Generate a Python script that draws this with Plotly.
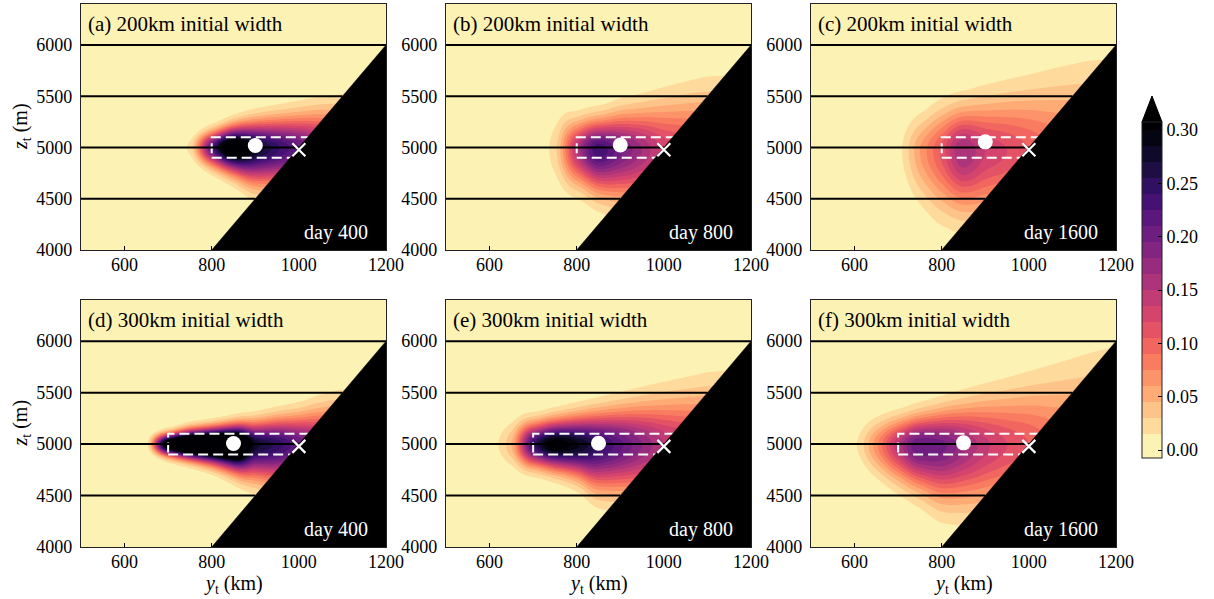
import numpy as np
import plotly.graph_objects as go

# ---------------- data ----------------
panel_labels = ["(a) 200km initial width", "(b) 200km initial width", "(c) 200km initial width",
                "(d) 300km initial width", "(e) 300km initial width", "(f) 300km initial width"]
day_labels = ["day 400", "day 800", "day 1600", "day 400", "day 800", "day 1600"]

# topography: slope from (800 km, 4000 m) rising 5 m per km up to 6000 m
slope_y0 = 800.0
slope_z0 = 4000.0
slope_grad = 5.0
slope_ztop = 6000.0
isopycnal_levels = [4500, 5000, 5500, 6000]

# initial tracer box (dashed)
box_left = [800, 800, 800, 700, 700, 700]
box_bottom = 4900
box_top = 5100
# tracer centroid (white dot)
dot_y = [900, 900, 900, 850, 850, 850]
dot_z = [5020, 5025, 5055, 5005, 5008, 5012]
# release point (white cross)
cross_y = 1000
cross_z = 4978

# tracer profile read along the plume, at these positions y_t (km)
profile_y = [500, 550, 600, 650, 700, 750, 800, 850, 900, 950, 1000, 1050, 1100, 1150, 1200]
# concentration on the plume axis
axis_conc = [
    [0, 0, 0, 0, 0, 0.02, 0.22, 0.36, 0.29, 0.245, 0.21, 0.17, 0.13, 0.10, 0.08],        # (a)
    [0, 0, 0, 0, 0, 0.025, 0.15, 0.235, 0.20, 0.165, 0.13, 0.115, 0.10, 0.085, 0.07],    # (b)
    [0, 0, 0, 0, 0.01, 0.06, 0.11, 0.165, 0.135, 0.12, 0.105, 0.09, 0.08, 0.07, 0.06],   # (c)
    [0, 0, 0, 0.01, 0.36, 0.48, 0.50, 0.48, 0.28, 0.25, 0.21, 0.17, 0.13, 0.10, 0.08],   # (d)
    [0, 0, 0.006, 0.045, 0.24, 0.315, 0.29, 0.25, 0.215, 0.18, 0.15, 0.13, 0.11, 0.09, 0.075],  # (e)
    [0, 0, 0.012, 0.07, 0.15, 0.21, 0.20, 0.17, 0.14, 0.12, 0.105, 0.09, 0.08, 0.07, 0.06],     # (f)
]
# depth of the plume axis (m)
axis_z = [5000, 4980, 4965, 5000, 4995, 4990]
# vertical e-folding spread above / below the axis (m)
spread_up = [
    [100, 100, 100, 100, 100, 115, 140, 180, 221, 251, 281, 319, 354, 391, 420],
    [220, 220, 220, 220, 220, 300, 250, 259, 311, 355, 415, 465, 515, 545, 560],
    [300, 300, 300, 300, 300, 310, 365, 381, 437, 484, 535, 597, 655, 714, 750],
    [80, 80, 80, 80, 90, 117, 134, 156, 187, 219, 252, 308, 360, 390, 420],
    [190, 190, 190, 200, 190, 209, 240, 276, 313, 356, 402, 446, 496, 537, 560],
    [200, 200, 200, 219, 231, 258, 298, 348, 403, 455, 515, 582, 651, 730, 807],
]
spread_down = [
    [100, 100, 100, 100, 100, 125, 165, 219, 302, 330, 360, 400, 400, 400, 400],
    [220, 220, 220, 220, 220, 320, 316, 367, 420, 460, 500, 500, 500, 500, 500],
    [300, 300, 300, 300, 350, 437, 514, 520, 550, 550, 550, 550, 550, 550, 550],
    [80, 80, 80, 80, 101, 127, 160, 215, 287, 330, 360, 400, 400, 400, 400],
    [170, 170, 170, 190, 190, 215, 266, 370, 400, 430, 460, 460, 460, 460, 460],
    [200, 200, 200, 258, 316, 378, 469, 500, 520, 520, 520, 520, 520, 520, 520],
]

# colour levels
level_start, level_end, level_step = 0.0, 0.30, 0.015
cbar_ticks = [0.00, 0.05, 0.10, 0.15, 0.20, 0.25, 0.30]

# ---------------- styling ----------------
W, H = 1214, 599
FONT = "Liberation Serif"
col_px = [(81, 386), (446, 751), (811, 1116)]
row_px = [(4, 250), (300, 547)]


def fx(px):
    return px / W


def fy(py):
    return 1 - py / H


magma_hex = ['#000004', '#140e36', '#3b0f70', '#641a80', '#8c2981', '#b73779',
             '#de4968', '#f7705c', '#fe9f6d', '#fecf92', '#fcfdbf']


def hex2rgb(h):
    return np.array([int(h[i:i + 2], 16) for i in (1, 3, 5)], float)


def magma(t):
    t = min(max(t, 0.0), 1.0) * 10
    i = min(int(t), 9)
    f = t - i
    c = hex2rgb(magma_hex[i]) * (1 - f) + hex2rgb(magma_hex[i + 1]) * f
    return 'rgb(%d,%d,%d)' % tuple(np.round(c))


nb = int(round((level_end - level_start) / level_step))
band_cols = [magma(1 - (k + 0.5) / nb) for k in range(nb)]
over_col = magma(0.0)
# plotly evaluates contour fills at s = (k+1)/(nb+1)
cscale = [[0.0, band_cols[0]]] + [[(k + 1) / (nb + 1), band_cols[k]] for k in range(nb)] + [[1.0, over_col]]


def slope_y(z):
    return slope_y0 + (np.asarray(z, float) - slope_z0) / slope_grad


def pchip(xn, yn, x):
    xn = np.asarray(xn, float)
    yn = np.asarray(yn, float)
    hk = np.diff(xn)
    dk = np.diff(yn) / hk
    m = np.zeros_like(yn)
    m[0], m[-1] = dk[0], dk[-1]
    for k in range(1, len(yn) - 1):
        if dk[k - 1] * dk[k] > 0:
            w1 = 2 * hk[k] + hk[k - 1]
            w2 = hk[k] + 2 * hk[k - 1]
            m[k] = (w1 + w2) / (w1 / dk[k - 1] + w2 / dk[k])
    idx = np.clip(np.searchsorted(xn, x) - 1, 0, len(xn) - 2)
    t = (x - xn[idx]) / hk[idx]
    h00 = 2 * t ** 3 - 3 * t ** 2 + 1
    h10 = t ** 3 - 2 * t ** 2 + t
    h01 = -2 * t ** 3 + 3 * t ** 2
    h11 = t ** 3 - t ** 2
    return h00 * yn[idx] + h10 * hk[idx] * m[idx] + h01 * yn[idx + 1] + h11 * hk[idx] * m[idx + 1]


yy = np.arange(500, 1200.1, 4.0)
zz = np.arange(4000, 6400.1, 12.0)
Y, Z = np.meshgrid(yy, zz)


def tracer(i):
    a = np.clip(pchip(profile_y, axis_conc[i], yy), 0, None)
    hu = pchip(profile_y, spread_up[i], yy)
    hd = pchip(profile_y, spread_down[i], yy)
    dz = Z - axis_z[i]
    h = np.where(dz > 0, hu[None, :], hd[None, :])
    return np.round(a[None, :] * np.exp(-(dz / h) ** 2), 4)


fig = go.Figure()
layout = {}
annotations = []

for i in range(6):
    r, c = divmod(i, 3)
    xa = 'x' if i == 0 else 'x%d' % (i + 1)
    ya = 'y' if i == 0 else 'y%d' % (i + 1)
    xkey = 'xaxis' if i == 0 else 'xaxis%d' % (i + 1)
    ykey = 'yaxis' if i == 0 else 'yaxis%d' % (i + 1)
    x0, x1 = col_px[c]
    t0, t1 = row_px[r]
    layout[xkey] = dict(domain=[fx(x0), fx(x1)], anchor=ya, range=[500, 1200],
                        tickvals=[600, 800, 1000, 1200], ticks='inside', ticklen=4,
                        tickcolor='black', showline=True, mirror=True, linecolor='#222',
                        linewidth=1.2, showgrid=False, zeroline=False, ticklabelstandoff=-2,
                        tickfont=dict(family=FONT, size=18, color='black'))
    layout[ykey] = dict(domain=[fy(t1), fy(t0)], anchor=xa, range=[4000, 6400],
                        tickvals=[4000, 4500, 5000, 5500, 6000], ticks='inside', ticklen=4,
                        tickcolor='black', showline=True, mirror=True, linecolor='#222',
                        linewidth=1.2, showgrid=False, zeroline=False, ticklabelstandoff=4,
                        tickfont=dict(family=FONT, size=18, color='black'))

    fig.add_trace(go.Contour(
        x=yy, y=zz, z=tracer(i), xaxis=xa, yaxis=ya,
        colorscale=cscale, showscale=(i == 0),
        contours=dict(start=level_start, end=level_end, size=level_step, coloring='fill'),
        line=dict(width=0, smoothing=0.6), hoverinfo='skip',
        colorbar=dict(x=fx(1142), xanchor='left', y=fy(458), yanchor='bottom',
                      len=336, lenmode='pixels', thickness=20, thicknessmode='pixels',
                      xpad=0, ypad=0, outlinewidth=1, outlinecolor='#222',
                      ticks='inside', ticklen=4, tickcolor='black',
                      tickvals=cbar_ticks, ticktext=['%.2f' % v for v in cbar_ticks],
                      tickfont=dict(family=FONT, size=18, color='black'))))

    # dashed initial box (right part hidden beneath the topography)
    ytop = float(slope_y(slope_ztop))
    bx = [box_left[i], ytop, ytop, box_left[i], box_left[i]]
    bz = [box_bottom, box_bottom, box_top, box_top, box_bottom]
    fig.add_trace(go.Scatter(x=bx, y=bz, xaxis=xa, yaxis=ya, mode='lines',
                             line=dict(color='white', width=2, dash='10px,5px'),
                             hoverinfo='skip', showlegend=False))
    # topography
    tx = [slope_y0, ytop, ytop, slope_y0]
    tz = [slope_z0, slope_ztop, slope_z0, slope_z0]
    fig.add_trace(go.Scatter(x=tx, y=tz, xaxis=xa, yaxis=ya, mode='lines', fill='toself',
                             fillcolor='black', line=dict(color='black', width=0.5),
                             hoverinfo='skip', showlegend=False))
    # isopycnals ending at the slope
    for lev in isopycnal_levels:
        fig.add_trace(go.Scatter(x=[500, float(slope_y(lev))], y=[lev, lev], xaxis=xa, yaxis=ya,
                                 mode='lines', line=dict(color='black', width=2),
                                 hoverinfo='skip', showlegend=False))
    fig.add_trace(go.Scatter(x=[dot_y[i]], y=[dot_z[i]], xaxis=xa, yaxis=ya, mode='markers',
                             marker=dict(color='white', size=15), hoverinfo='skip', showlegend=False))
    fig.add_trace(go.Scatter(x=[cross_y], y=[cross_z], xaxis=xa, yaxis=ya, mode='markers',
                             marker=dict(symbol='x-thin', size=13, line=dict(color='white', width=2.2)),
                             hoverinfo='skip', showlegend=False))

    xd = xa + ' domain'
    yd = ya + ' domain'
    annotations.append(dict(text=panel_labels[i], xref=xd, yref=yd, x=0.016, y=0.919,
                            xanchor='left', yanchor='middle', showarrow=False,
                            font=dict(family=FONT, size=21, color='black')))
    annotations.append(dict(text=day_labels[i], xref=xd, yref=yd, x=0.947, y=0.015,
                            xanchor='right', yanchor='bottom', showarrow=False,
                            font=dict(family=FONT, size=20, color='white')))
    if c == 0:
        annotations.append(dict(text='<i>z</i><sub>t</sub> (m)', xref='paper', yref='paper',
                                x=fx(21), y=fy((t0 + t1) / 2), textangle=-90,
                                xanchor='center', yanchor='middle', showarrow=False,
                                font=dict(family=FONT, size=20, color='black')))
    if r == 1:
        annotations.append(dict(text='<i>y</i><sub>t</sub> (km)', xref='paper', yref='paper',
                                x=fx((x0 + x1) / 2), y=fy(584),
                                xanchor='center', yanchor='middle', showarrow=False,
                                font=dict(family=FONT, size=20, color='black')))

# colorbar "extend max" arrow
ax0, ax1 = fx(1142), fx(1162)
ab, at = fy(122), fy(96)
shapes = [dict(type='path', xref='paper', yref='paper',
               path='M %f %f L %f %f L %f %f Z' % (ax0, ab, ax1, ab, (ax0 + ax1) / 2, at),
               fillcolor='black', line=dict(color='black', width=1))]

fig.update_layout(width=W, height=H, margin=dict(l=0, r=0, t=0, b=0, autoexpand=False),
                  paper_bgcolor='white', plot_bgcolor=band_cols[0],
                  showlegend=False, annotations=annotations, shapes=shapes, **layout)
fig.write_html("out.html", config={'displayModeBar': False},
               post_script="document.body.style.margin='0px';document.body.style.overflow='hidden';")
